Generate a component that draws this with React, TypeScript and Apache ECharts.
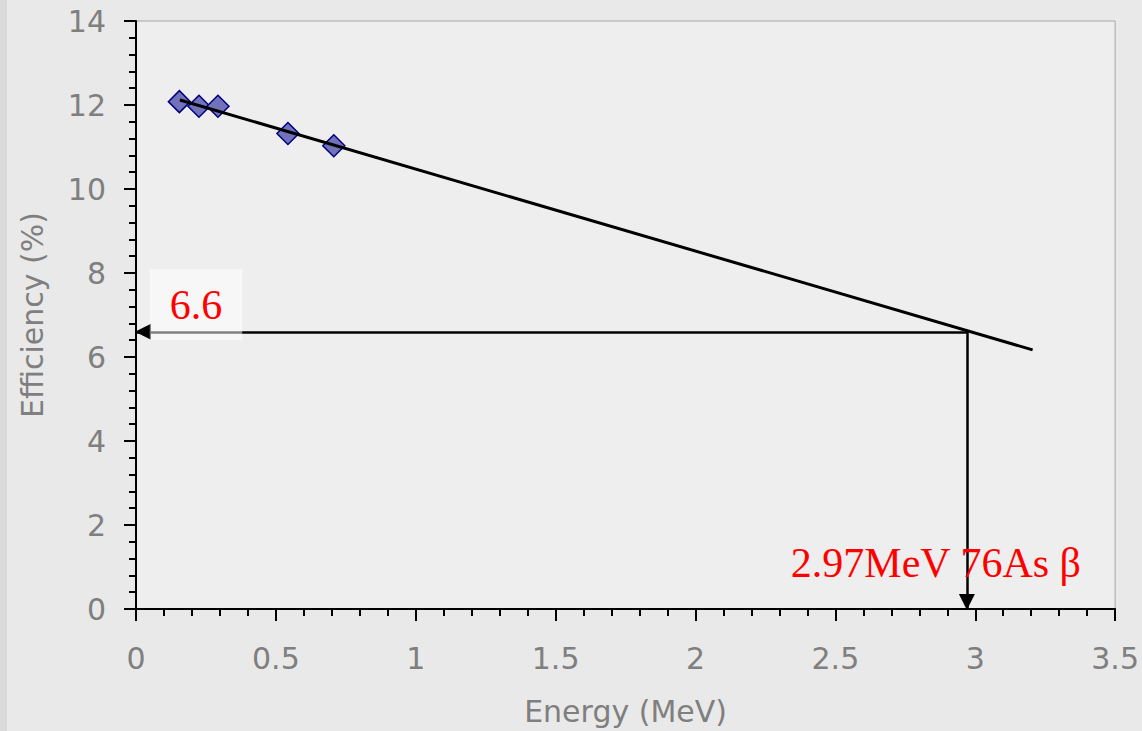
import React, { useEffect, useRef } from "react";
import * as echarts from "echarts";

// Measured detector efficiency vs. beta end-point energy
const energy = [0.155, 0.225, 0.293, 0.543, 0.707];
const efficiency = [12.08, 11.97, 11.97, 11.32, 11.03];

// Straight-line fit through the measurements, extended to higher energies
const fitEnergy = [0.157, 3.205];
const fitEfficiency = [12.12, 6.17];

// Read-off for the 76As beta end-point
const betaEnergy = 2.97;
const readEfficiency = 6.6;

// Axis ranges and tick steps
const xRange = [0, 3.5];
const xStep = 0.5;
const yRange = [0, 14];
const yStep = 2;

const axisGrey = "#7f7f7f";
const sansFont = "'DejaVu Sans', Arial, sans-serif";
const serifFont = "'Liberation Serif', 'Times New Roman', serif";

export default function App() {
  const ref = useRef<HTMLDivElement>(null);

  useEffect(() => {
    if (!ref.current) return;
    const chart = echarts.init(ref.current, undefined, { renderer: "svg" });

    const points = energy.map((e, i) => [e, efficiency[i]]);
    const fit = fitEnergy.map((e, i) => [e, fitEfficiency[i]]);

    chart.setOption({
      animation: false,
      backgroundColor: "#e9e9e9",
      graphic: [
        {
          type: "rect",
          left: 0,
          top: 0,
          shape: { width: 7, height: 731 },
          style: { fill: "#dadada" },
          silent: true,
        },
      ],
      grid: {
        left: 136,
        top: 21,
        right: 24,
        bottom: 122,
        show: true,
        backgroundColor: "#eeeeee",
        borderColor: "#a6a6a6",
        borderWidth: 1,
      },
      xAxis: {
        type: "value",
        min: xRange[0],
        max: xRange[1],
        interval: xStep,
        name: "Energy (MeV)",
        nameLocation: "middle",
        nameGap: 87,
        nameTextStyle: { color: axisGrey, fontSize: 30, fontFamily: sansFont },
        axisLine: { show: true, onZero: false, lineStyle: { color: "#000", width: 2 } },
        axisTick: { show: true, length: 12, lineStyle: { color: "#000", width: 2 } },
        minorTick: { show: true, splitNumber: 5, length: 7, lineStyle: { color: "#000", width: 2 } },
        axisLabel: { color: axisGrey, fontSize: 30, fontFamily: sansFont, margin: 34 },
        splitLine: { show: false },
      },
      yAxis: {
        type: "value",
        min: yRange[0],
        max: yRange[1],
        interval: yStep,
        name: "Efficiency (%)",
        nameLocation: "middle",
        nameRotate: 90,
        nameGap: 89,
        nameTextStyle: { color: axisGrey, fontSize: 30, fontFamily: sansFont },
        axisLine: { show: true, onZero: false, lineStyle: { color: "#000", width: 2 } },
        axisTick: { show: true, length: 12, lineStyle: { color: "#000", width: 2 } },
        minorTick: { show: true, splitNumber: 5, length: 7, lineStyle: { color: "#000", width: 2 } },
        axisLabel: { color: axisGrey, fontSize: 30, fontFamily: sansFont, margin: 30 },
        splitLine: { show: false },
      },
      series: [
        {
          name: "Measured",
          type: "scatter",
          data: points,
          symbol: "diamond",
          symbolSize: 22,
          itemStyle: { color: "#7272bb", borderColor: "#00007f", borderWidth: 1.5, opacity: 1 },
          z: 2,
        },
        {
          name: "Fit",
          type: "line",
          data: fit,
          showSymbol: false,
          symbol: "none",
          lineStyle: { color: "#000", width: 3 },
          z: 3,
          markLine: {
            silent: true,
            symbol: ["none", "triangle"],
            symbolSize: 16,
            symbolOffset: [0, [0, 7]],
            lineStyle: { color: "#000", width: 2.5, type: "solid" },
            itemStyle: { color: "#000" },
            label: { show: false },
            emphasis: { disabled: true },
            data: [
              [{ coord: [betaEnergy, readEfficiency] }, { coord: [xRange[0], readEfficiency] }],
              [{ coord: [betaEnergy, readEfficiency] }, { coord: [betaEnergy, yRange[0]] }],
            ],
          },
          markPoint: {
            silent: true,
            symbol: "rect",
            symbolSize: 1,
            itemStyle: { color: "rgba(0,0,0,0)" },
            data: [
              {
                coord: [xRange[0], readEfficiency],
                label: {
                  show: true,
                  formatter: String(readEfficiency),
                  position: "inside",
                  offset: [60, -27],
                  color: "#ff0000",
                  fontFamily: serifFont,
                  fontSize: 42,
                  lineHeight: 42,
                  backgroundColor: "rgba(255,255,255,0.5)",
                  padding: [14, 20, 15, 20],
                },
              },
              {
                coord: [betaEnergy, yRange[0]],
                label: {
                  show: true,
                  formatter: `${betaEnergy}MeV 76As β`,
                  position: "inside",
                  offset: [-31, -46],
                  color: "#ff0000",
                  fontFamily: serifFont,
                  fontSize: 42,
                  lineHeight: 42,
                },
              },
            ],
          },
        },
      ],
    });

    return () => chart.dispose();
  }, []);

  return (
    <div
      ref={ref}
      style={{ position: "fixed", left: 0, top: 0, width: 1142, height: 731 }}
    />
  );
}
